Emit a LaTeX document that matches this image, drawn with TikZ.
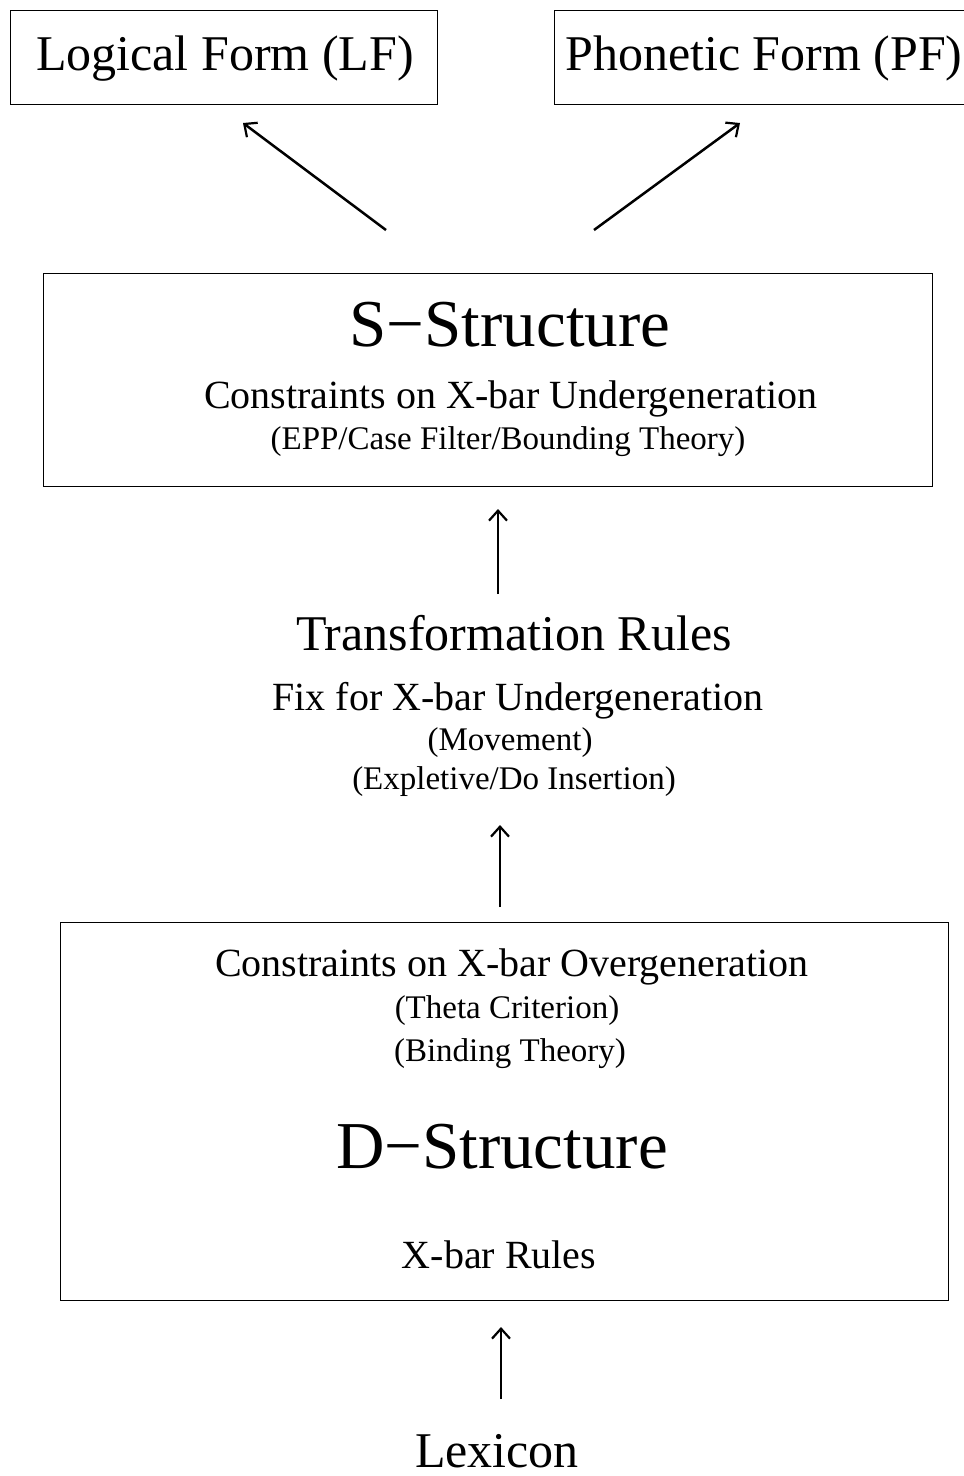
\documentclass[tikz,border=0pt]{standalone}
\usepackage{fontspec}
\setmainfont{Liberation Serif}
\usetikzlibrary{arrows.meta}

\tikzset{
  frame/.style={draw, line width=1.3pt, inner sep=0pt, anchor=north west},
  txt/.style={anchor=base, inner sep=0pt, text=black},
  huge/.style={txt, font=\fontsize{67}{67}\selectfont},
  large/.style={txt, font=\fontsize{50}{50}\selectfont},
  medium/.style={txt, font=\fontsize{40}{40}\selectfont},
  small/.style={txt, font=\fontsize{33}{33}\selectfont},
  flow/.style={line width=2.5pt, -{Straight Barb[length=10pt, width=18pt, line width=2.2pt]}}
}

\begin{document}
\begin{tikzpicture}[x=1pt, y=-1pt]
  \useasboundingbox (0,0) rectangle (964,1476);
  \fill[white] (0,0) rectangle (964,1476);

  % output levels
  \node[frame, minimum width=427pt, minimum height=94pt] (lfbox) at (10,10) {};
  \node[large] (lf) at (225,70) {Logical Form (LF)};
  \node[frame, minimum width=420pt, minimum height=94pt] (pfbox) at (554,10) {};
  \node[large] (pf) at (764,70) {Phonetic Form (PF)};

  % S-Structure
  \node[frame, minimum width=889pt, minimum height=213pt] (sbox) at (43,273) {};
  \node[huge] (ss) at (510,346) {S−Structure};
  \node[medium] (sunder) at (511,408) {Constraints on X-bar Undergeneration};
  \node[small] (sfilters) at (508,449) {(EPP/Case Filter/Bounding Theory)};

  % transformations
  \node[large] (trans) at (514,650) {Transformation Rules};
  \node[medium] (fix) at (518,710) {Fix for X-bar Undergeneration};
  \node[small] (move) at (510,750) {(Movement)};
  \node[small] (insert) at (514,789) {(Expletive/Do Insertion)};

  % D-Structure
  \node[frame, minimum width=888pt, minimum height=378pt] (dbox) at (60,922) {};
  \node[medium] (dover) at (512,976) {Constraints on X-bar Overgeneration};
  \node[small] (theta) at (507,1018) {(Theta Criterion)};
  \node[small] (binding) at (510,1061) {(Binding Theory)};
  \node[huge] (ds) at (502,1168) {D−Structure};
  \node[medium] (xbar) at (499,1268) {X-bar Rules};

  \node[large] (lex) at (497,1467) {Lexicon};

  % connector end points
  \coordinate (lftip) at (243,123);
  \coordinate (lftail) at (386,230);
  \coordinate (pftip) at (740,123);
  \coordinate (pftail) at (594,230);
  \coordinate (stip) at (498,509);
  \coordinate (stail) at (498,594);
  \coordinate (ttip) at (500,825);
  \coordinate (ttail) at (500,907);
  \coordinate (dtip) at (501,1327);
  \coordinate (dtail) at (501,1399);

  \draw[flow] (lftail) -- (lftip);
  \draw[flow] (pftail) -- (pftip);
  \draw[flow] (stail) -- (stip);
  \draw[flow] (ttail) -- (ttip);
  \draw[flow] (dtail) -- (dtip);
\end{tikzpicture}
\end{document}
